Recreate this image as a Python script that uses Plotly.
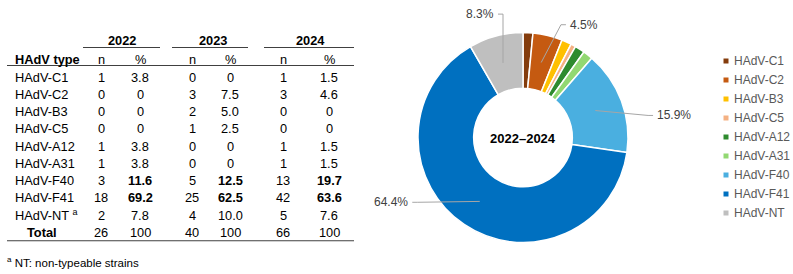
import math
import plotly.graph_objects as go

# ---------------- data ----------------
types = ["HAdV-C1", "HAdV-C2", "HAdV-B3", "HAdV-C5", "HAdV-A12",
         "HAdV-A31", "HAdV-F40", "HAdV-F41", "HAdV-NT"]
years = ["2022", "2023", "2024"]
n_2022 = [1, 0, 0, 0, 1, 1, 3, 18, 2]
pct_2022 = ["3.8", "0", "0", "0", "3.8", "3.8", "11.6", "69.2", "7.8"]
n_2023 = [0, 3, 2, 1, 0, 0, 5, 25, 4]
pct_2023 = ["0", "7.5", "5.0", "2.5", "0", "0", "12.5", "62.5", "10.0"]
n_2024 = [1, 3, 0, 0, 1, 1, 13, 42, 5]
pct_2024 = ["1.5", "4.6", "0", "0", "1.5", "1.5", "19.7", "63.6", "7.6"]
total_n = [26, 40, 66]
total_pct = ["100", "100", "100"]
bold_pct_types = ["HAdV-F40", "HAdV-F41"]
footnote_types = {"HAdV-NT": "a"}
footnote_text = "<sup>a</sup> NT: non-typeable strains"
center_label = "2022–2024"
colors = ["#843C0C", "#C55A11", "#FFC000", "#F4B183", "#2E8B2E",
          "#92D872", "#4AAFE0", "#0070C0", "#BFBFBF"]

pie_values = [a + b + c for a, b, c in zip(n_2022, n_2023, n_2024)]

# ---------------- layout constants ----------------
W, H = 793, 274
FONT = "Arial, 'Liberation Sans', sans-serif"
TXT = "#000000"
RULE = "#404040"
TSIZE = 12.8

fig = go.Figure()

# ---------------- donut ----------------
cx, cy, R = 523, 137.5, 105
hole = 0.47
fig.add_trace(go.Pie(
    labels=types, values=pie_values, sort=False, direction="clockwise",
    rotation=0, hole=hole,
    marker=dict(colors=colors, line=dict(color="white", width=1.5)),
    textinfo="none", showlegend=False,
    domain=dict(x=[(cx - R) / W, (cx + R) / W],
                y=[(H - cy - R) / H, (H - cy + R) / H]),
))

annotations = []
shapes = []

def ann(x, y, text, size=TSIZE, color=TXT, xanchor="center", bold=False):
    if bold:
        text = "<b>" + text + "</b>"
    annotations.append(dict(x=x, y=y, xref="x", yref="y", text=text,
                            showarrow=False, xanchor=xanchor, yanchor="middle",
                            font=dict(family=FONT, size=size, color=color)))

def hline(x0, x1, y, color=RULE, width=1):
    shapes.append(dict(type="line", xref="x", yref="y", x0=x0, x1=x1, y0=y, y1=y,
                       line=dict(color=color, width=width), layer="above"))

# center label
ann(cx, cy + 1, center_label, size=13, bold=True)

# leader labels (computed from slice angles)
total = sum(pie_values)
label_min_pct = 4.0
knee = {"HAdV-C2": (18.6, 119), "HAdV-F40": (80, 127),
        "HAdV-F41": (238.5, 124), "HAdV-NT": (350.8, 125)}
r_mid = (R + hole * R) / 2
cum = 0
for t, v in zip(types, pie_values):
    pct = v / total * 100
    mid = (cum + v / 2) / total * 2 * math.pi
    cum += v
    if pct < label_min_pct:
        continue
    ax_ = cx + r_mid * math.sin(mid)
    ay_ = cy - r_mid * math.cos(mid)
    ka, kr = knee[t]
    kx = cx + kr * math.sin(math.radians(ka))
    ky = cy - kr * math.cos(math.radians(ka))
    side = 1 if kx > cx else -1
    tx = kx + side * 5
    shapes.append(dict(type="path", xref="x", yref="y",
                       path=f"M{ax_},{ay_} L{kx},{ky} L{tx},{ky}",
                       line=dict(color="#A6A6A6", width=1), layer="above"))
    ann(tx + side * 2, ky, f"{pct:.1f}%", size=12, color="#404040",
        xanchor="left" if side > 0 else "right")

# ---------------- legend ----------------
leg_x, leg_y0, leg_dy = 726, 61, 19
leg_y = [leg_y0 + i * leg_dy for i in range(len(types))]
fig.add_trace(go.Scatter(
    x=[leg_x] * len(types), y=leg_y, mode="markers",
    marker=dict(symbol="square", size=5, color=colors, line=dict(width=0)),
    showlegend=False, hoverinfo="skip", xaxis="x", yaxis="y"))
for t, y in zip(types, leg_y):
    ann(leg_x + 6, y, t, size=12, color="#595959", xanchor="left")

# ---------------- table ----------------
label_x = 13
n_x = [101, 192, 283]
pct_x = [140, 230, 329]
year_x = [122, 213, 310]
year_span = [(83, 160), (172, 248), (264, 354)]
table_x0, table_x1 = 7, 354
y_year, y_year_rule, y_head, y_head_rule = 40.5, 47.5, 59, 65.5
row_y0, row_dy = 77, 17.25

for yr, xc, (a, b) in zip(years, year_x, year_span):
    ann(xc, y_year, yr, bold=True)
    hline(a, b, y_year_rule)
ann(label_x, y_head, "HAdV type", xanchor="left", bold=True)
for xn, xp in zip(n_x, pct_x):
    ann(xn, y_head, "n")
    ann(xp, y_head, "%")
hline(table_x0, table_x1, y_head_rule)

cols_n = [n_2022, n_2023, n_2024]
cols_p = [pct_2022, pct_2023, pct_2024]
for i, t in enumerate(types):
    y = row_y0 + i * row_dy
    lab = t + (f" <sup>{footnote_types[t]}</sup>" if t in footnote_types else "")
    ann(label_x, y, lab, xanchor="left")
    for j in range(3):
        ann(n_x[j], y, str(cols_n[j][i]))
        ann(pct_x[j], y, cols_p[j][i], bold=t in bold_pct_types)
y_tot = row_y0 + len(types) * row_dy + 0.5
ann(42, y_tot, "Total", bold=True)
for j in range(3):
    ann(n_x[j], y_tot, str(total_n[j]))
    ann(pct_x[j], y_tot, total_pct[j])
hline(table_x0, table_x1, y_tot + 8)

ann(5, 262, footnote_text, size=11.5, xanchor="left")

fig.update_layout(
    width=W, height=H, margin=dict(l=0, r=0, t=0, b=0),
    paper_bgcolor="white", plot_bgcolor="rgba(0,0,0,0)",
    xaxis=dict(range=[0, W], domain=[0, 1], visible=False, fixedrange=True),
    yaxis=dict(range=[H, 0], domain=[0, 1], visible=False, fixedrange=True),
    annotations=annotations, shapes=shapes, showlegend=False,
)
fig.write_html("out.html")
